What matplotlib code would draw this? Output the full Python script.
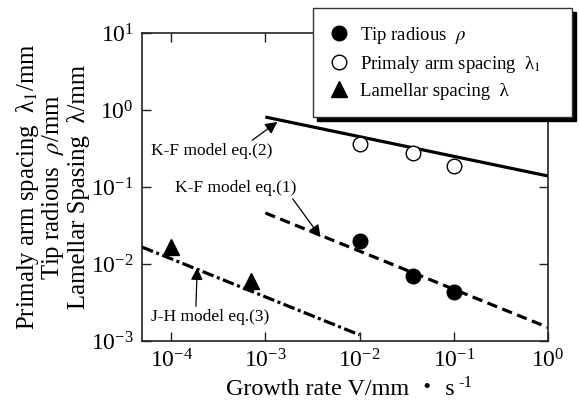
import matplotlib
matplotlib.use("Agg")
import matplotlib.pyplot as plt
import numpy as np

plt.rcParams['font.family'] = ['Liberation Serif', 'Noto Sans CJK JP', 'DejaVu Sans']
plt.rcParams['mathtext.fontset'] = 'stix'
plt.rcParams['axes.unicode_minus'] = False
plt.rcParams['lines.scale_dashes'] = False

# --- data ---
tip_v = [1e-2, 3.7e-2, 1e-1]
tip_rho = [0.020, 0.0070, 0.0043]

arm_v = [1e-2, 3.7e-2, 1e-1]
arm_lambda1 = [0.36, 0.28, 0.19]

lam_v = [1e-4, 7e-4]
lam_lambda = [0.0166, 0.0060]

kf2_v = [1e-3, 1.0]
kf2_y = [0.81, 0.139]

kf1_v = [1e-3, 1.0]
kf1_y = [0.046, 0.0015]

jh_v = [4.9e-5, 1e-2]
jh_y = [0.0166, 0.0012]

legend_labels = ['Tip radious  $\\rho$', 'Primaly arm spacing  λ$_{1}$', 'Lamellar spacing  λ']
xlabel_main = 'Growth rate V/mm ・ s'
xlabel_sup = '-1'
ylabel_lines = ['Primaly arm spacing  λ$_{1}$/mm', 'Tip radious  $\\rho$/mm', 'Lamellar Spasing  λ/mm']

W, H = 579, 401
fig = plt.figure(figsize=(W / 100, H / 100), dpi=100)
ax = fig.add_axes([142 / W, 1 - 341 / H, (548 - 142) / W, (341 - 33) / H])

ax.set_xscale('log')
ax.set_yscale('log')
ax.set_xlim(4.9e-5, 1.0)
ax.set_ylim(1e-3, 10)

ax.plot(kf2_v, kf2_y, color='black', lw=2.3, solid_capstyle='butt')
ax.plot(kf1_v, kf1_y, color='black', lw=2.3, linestyle=(0, (7.5, 4.0)))
ax.plot(jh_v, jh_y, color='black', lw=2.3, linestyle=(0, (8.5, 2.5, 2.2, 2.5)))

h1, = ax.plot(tip_v, tip_rho, 'o', color='black', ms=10.5, mec='black', ls='none')
h2, = ax.plot(arm_v, arm_lambda1, 'o', mfc='white', mec='black', mew=1.0, ms=10.5, ls='none')
h3, = ax.plot(lam_v, lam_lambda, '^', color='black', ms=11, ls='none')

ax.set_xticks([1e-4, 1e-3, 1e-2, 1e-1, 1e0])
ax.set_yticks([1e-3, 1e-2, 1e-1, 1e0, 1e1])
ax.minorticks_off()
ax.tick_params(axis='both', which='major', direction='in', length=6.5, width=1.0,
               top=True, right=True, labelsize=17, pad=6, color='#222222')
for s in ax.spines.values():
    s.set_linewidth(1.2)
    s.set_color('#222222')

# x label: main text + raised superscript
xt = fig.text(340 / W, 1 - 395 / H, xlabel_main, ha='center', va='baseline', fontsize=17.4)
fig.canvas.draw()
bb = xt.get_window_extent()
fig.text((bb.x1 + 4) / W, 1 - 387 / H, xlabel_sup, ha='left', va='baseline', fontsize=12)

yc = 1 - 187 / H
for xpix, txt in zip([28, 53, 78], ylabel_lines):
    fig.text(xpix / W, yc, txt, rotation=90, ha='center', va='center', fontsize=17.8)

# annotations
akw = dict(arrowstyle='-|>', color='black', lw=0.9, mutation_scale=18, shrinkA=0, shrinkB=0)
ax.annotate('K-F model eq.(2)', xy=(1.34e-3, 0.70), xytext=(212 / W, 1 - 151 / H),
            textcoords='figure fraction', ha='center', va='center', fontsize=12.5,
            arrowprops=dict(akw, relpos=(0.8, 1.0)))
ax.annotate('K-F model eq.(1)', xy=(3.85e-3, 0.0224), xytext=(236 / W, 1 - 188 / H),
            textcoords='figure fraction', ha='center', va='center', fontsize=12.5,
            arrowprops=dict(akw, relpos=(0.95, 0.0)))
ax.annotate('J-H model eq.(3)', xy=(1.89e-4, 0.0089), xytext=(210 / W, 1 - 317 / H),
            textcoords='figure fraction', ha='center', va='center', fontsize=12.5,
            arrowprops=dict(akw, relpos=(0.38, 1.0)))

leg = ax.legend([h1, h2, h3], legend_labels, loc='upper left',
                bbox_to_anchor=(313 / W, 1 - 8 / H, 259 / W, 0), bbox_transform=fig.transFigure,
                mode='expand', frameon=True, fancybox=False,
                shadow={'ox': 3, 'oy': -3, 'color': 'black', 'alpha': 1.0},
                fontsize=13.5, handletextpad=0.6, labelspacing=0.43, borderpad=0.89,
                borderaxespad=0, handlelength=1.0)
leg.get_frame().set_edgecolor('#333333')
leg.get_frame().set_linewidth(1.0)
leg.set_zorder(10)

fig.savefig('out.png', dpi=100, facecolor='white')
